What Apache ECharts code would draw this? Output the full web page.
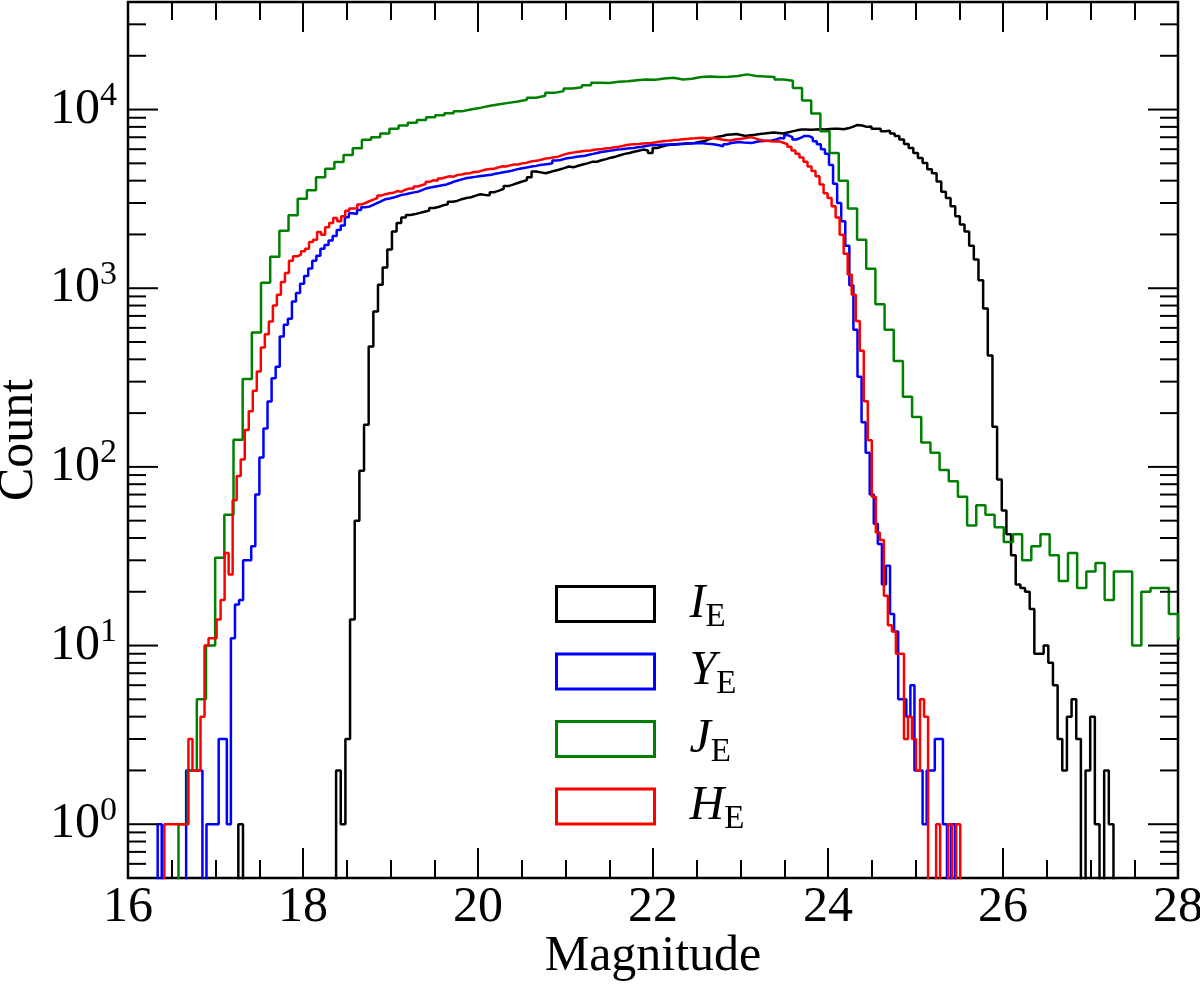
<!DOCTYPE html>
<html>
<head>
<meta charset="utf-8">
<title>Magnitude histograms</title>
<script src="https://cdn.jsdelivr.net/npm/echarts@6/dist/echarts.min.js"></script>
<style>
  html, body { margin: 0; padding: 0; background: #fff; }
  #chart { width: 1200px; height: 986px; }
</style>
</head>
<body>
<div id="chart"></div>
<script>
// first bin edge and bin width of each band, then the counts per bin
const iStart = 17.261, iWidth = 0.0532
const yStart = 16.339, yWidth = 0.0465
const jStart = 16.577, jWidth = 0.1048
const hStart = 16.4152, hWidth = 0.04594

const iCounts = [
  1, 0, 0, 0, 0, 0, 0, 0, 0, 0, 0, 0, 0, 0, 0, 0, 0, 0, 0, 0, 0,
  2, 1, 3, 14, 50, 95,
  172, 472, 741, 1047, 1308, 1645, 2080, 2317, 2490, 2570,
  2600, 2640, 2680, 2720, 2815, 2850, 2910, 2950, 3050, 3080,
  3150, 3200, 3230, 3300, 3360, 3330, 3310, 3450, 3520, 3600,
  3730, 3800, 3880, 3960, 4030, 4180, 4500, 4450, 4400, 4470,
  4550, 4620, 4700, 4800, 4750, 4850, 4930, 5000, 5100, 5100,
  5200, 5280, 5380, 5450, 5550, 5650, 5720, 5800, 5880, 5970,
  5900, 5720, 6100, 6200, 6310, 6350, 6380, 6420, 6450, 6480,
  6500, 6580, 6640, 6800, 6940, 7050, 7120, 7230, 7260, 7290,
  7200, 7120, 7180, 7230, 7300, 7340, 7400, 7450, 7400, 7340,
  7450, 7550, 7650, 7730, 7730, 7700, 7730, 7750, 7730, 7780,
  7800, 7800, 7760, 7850, 8000, 8200, 8150, 8000, 8050, 7800,
  7820, 7570, 7600, 7340, 7120, 6800, 6420, 6100, 5720, 5350,
  5030, 4630, 4400, 3960, 3470, 3200, 2880, 2525, 2270, 2080,
  1730, 1450, 1110, 770, 420, 168, 85, 57, 42, 32,
  22, 21, 20, 16, 9, 9, 10, 8, 6, 3,
  2, 4, 5, 3, 0, 2, 4, 1, 0, 2, 1
]

const yCounts = [
  1, 0, 0, 0, 0, 0, 0, 2, 2, 2, 2, 0, 1, 1, 1, 3, 3, 1,
  11, 17, 18, 30, 30, 36, 70, 113, 164,
  232, 313, 364, 537, 624, 674, 844, 939, 1060, 1170,
  1290, 1425, 1520, 1665, 1745, 1850, 1960, 2120, 2245, 2500,
  2630, 2600, 2740, 2840, 2860, 2930, 3000, 3070, 3150, 3180,
  3220, 3270, 3330, 3360, 3400, 3440, 3470, 3540, 3620, 3660,
  3700, 3730, 3770, 3810, 3880, 3960, 4020, 4080, 4140, 4170,
  4200, 4230, 4260, 4290, 4320, 4370, 4410, 4460, 4500, 4550,
  4610, 4660, 4710, 4750, 4800, 4840, 4890, 4930, 4960, 5000,
  5180, 5220, 5300, 5350, 5390, 5440, 5480, 5520, 5590, 5650,
  5720, 5780, 5830, 5880, 5920, 5970, 6000, 6040, 6070, 6100,
  6150, 6200, 6260, 6310, 6330, 6340, 6360, 6370, 6380, 6400,
  6410, 6420, 6440, 6460, 6480, 6500, 6470, 6440, 6420, 6370,
  6310, 6230, 6400, 6500, 6540, 6580, 6540, 6520, 6500, 6580,
  6640, 6670, 6690, 6710, 6800, 6940, 6880, 7180, 7010, 6800,
  6950, 7120, 7120, 6940, 6640, 6400, 6000, 5650, 4900, 3850,
  3000, 2367, 1730, 1040, 585, 320, 178, 120, 70, 48,
  37, 22, 28, 15, 12, 5, 5, 4, 6, 2,
  2, 1, 2, 2, 3, 3, 1, 0, 1
]

const jCounts = [
  1, 2, 5, 10, 31, 54, 142, 310, 565, 1073,
  1500, 2100, 2560, 3170, 3530, 4180, 4660, 5080, 5560, 6070,
  6770, 7000, 7340, 7800, 8150, 8450, 8750, 9050, 9300, 9550,
  9800, 10050, 10250, 10500, 10700, 10900, 11100, 11350, 11650, 11950,
  12400, 12680, 13130, 13350, 13700, 14120, 14100, 14300, 14420, 14610,
  14750, 14700, 14940, 15060, 14750, 14870, 15200, 15330, 15200, 15260,
  15400, 15740, 15400, 15330, 15200, 14750, 14500, 13200, 11250, 9500,
  7570, 5720, 4000, 2790, 1870, 1285, 814, 585, 392, 247,
  190, 137, 120, 96, 83, 68, 47, 61, 54, 46,
  38, 42, 30, 36, 42, 32, 23, 33, 21, 26,
  29, 18, 26, 26, 10, 20, 21, 21, 15, 11
]

const hCounts = [
  1, 1, 1, 1, 1, 1,
  3, 2, 2, 4, 10, 11, 11, 14, 18, 33, 25,
  65, 89, 110, 161, 205, 267, 342, 466, 553, 651,
  801, 919, 1082, 1215, 1427, 1508, 1540, 1608, 1665, 1813,
  1870, 2063, 1995, 2192, 2317, 2473, 2367, 2525, 2718, 2790,
  2790, 2940, 3000, 3067, 3135, 3200, 3300, 3360, 3400, 3420,
  3500, 3470, 3560, 3620, 3600, 3710, 3770, 3830, 3940, 4020,
  3990, 4110, 4180, 4230, 4210, 4310, 4330, 4390, 4400, 4470,
  4480, 4550, 4620, 4650, 4660, 4740, 4810, 4800, 4870, 4920,
  4930, 5000, 5030, 5100, 5160, 5180, 5260, 5330, 5360, 5410,
  5450, 5560, 5650, 5720, 5760, 5800, 5850, 5880, 5900, 5950,
  6000, 6020, 6080, 6100, 6150, 6200, 6260, 6330, 6370, 6400,
  6420, 6450, 6480, 6500, 6550, 6600, 6640, 6680, 6710, 6750,
  6780, 6820, 6850, 6880, 6900, 6930, 6950, 6920, 6940, 6900,
  6850, 6780, 6740, 6710, 6800, 6850, 6880, 6950, 7010, 6900,
  6780, 6710, 6680, 6640, 6620, 6640, 6520, 6400, 6200, 5900,
  5650, 5400, 5100, 4800, 4530, 4230, 3810, 3400, 3200, 2880,
  2490, 1995, 1560, 1195, 920, 655, 447, 233, 141, 68,
  43, 39, 19, 13, 12, 9, 9, 3, 4, 3,
  2, 5, 4, 0, 0, 1, 0, 0, 1, 0, 1
]

const bandNames = ['I', 'Y', 'J', 'H']
const bandColors = ['#000000', '#0000ff', '#008000', '#ff0000']
const xTicks = [16, 18, 20, 22, 24, 26, 28]
const yMajor = [1, 10, 100, 1000, 10000]

const FONT = "'Liberation Serif', 'DejaVu Serif', serif"
const FLOOR = 0.01 // empty bins drop below the axis

// histogram outline: points on the left edges, step turns at the next edge
function stepData(start, width, counts) {
  const pts = [[start, FLOOR]]
  counts.forEach((c, k) => {
    pts.push([Number((start + k * width).toFixed(5)), c > 0 ? c : FLOOR])
  })
  pts.push([Number((start + counts.length * width).toFixed(5)), FLOOR])
  return pts
}

const bands = [
  [iStart, iWidth, iCounts],
  [yStart, yWidth, yCounts],
  [jStart, jWidth, jCounts],
  [hStart, hWidth, hCounts],
]

// minor ticks of the log axis at 2..9 x 10^k
const yMinor = []
for (let e = -1; e <= 4; e++) {
  for (let m = 2; m <= 9; m++) {
    const v = m * Math.pow(10, e)
    if (v > 0.5 && v < 39000) yMinor.push(v)
  }
}
const tickData = yMajor.map(v => [16, v, 1]).concat(yMinor.map(v => [16, v, 0]))

const chart = echarts.init(document.getElementById('chart'), null, { renderer: 'canvas' })

const xAxisBase = {
  type: 'value',
  min: 16,
  max: 28,
  interval: 2,
  gridIndex: 0,
  axisLine: { show: false },
  axisTick: { show: true, inside: true, length: 30, lineStyle: { color: '#000', width: 2 } },
  minorTick: { show: true, splitNumber: 4, length: 18, lineStyle: { color: '#000', width: 2 } },
  splitLine: { show: false },
  minorSplitLine: { show: false },
}

const option = {
  animation: false,
  backgroundColor: '#fff',
  grid: {
    left: 128, right: 22, top: 2, bottom: 108,
    show: true, borderColor: '#000', borderWidth: 2.5,
    backgroundColor: 'rgba(0,0,0,0)',
    containLabel: false, outerBoundsMode: 'none',
  },
  xAxis: [
    Object.assign({}, xAxisBase, {
      position: 'bottom',
      axisLabel: {
        color: '#000', fontFamily: FONT, fontSize: 50, margin: 5,
        formatter: v => (xTicks.indexOf(v) >= 0 ? String(v) : ''),
      },
      name: 'Magnitude',
      nameLocation: 'middle',
      nameGap: 54,
      nameMoveOverlap: false,
      nameTextStyle: { color: '#000', fontFamily: FONT, fontSize: 50 },
    }),
    Object.assign({}, xAxisBase, {
      position: 'top',
      axisLabel: { show: false },
    }),
  ],
  yAxis: {
    type: 'log',
    logBase: 10,
    min: 0.5,
    max: 40000,
    axisLine: { show: false },
    axisTick: { show: false },
    splitLine: { show: false },
    axisLabel: {
      margin: 11,
      color: '#000',
      formatter: v => {
        const e = Math.log10(v)
        const r = Math.round(e)
        if (Math.abs(e - r) > 1e-6) return ''
        return '{b|10}{e|' + r + '}'
      },
      rich: {
        // same middle line for both, the exponent is lifted by its bottom padding
        b: { fontFamily: FONT, fontSize: 50, verticalAlign: 'middle', color: '#000' },
        e: { fontFamily: FONT, fontSize: 34, verticalAlign: 'middle', padding: [0, 0, 27, 0], color: '#000' },
      },
    },
    name: 'Count',
    nameLocation: 'middle',
    nameGap: 84,
    nameRotate: 90,
    nameMoveOverlap: false,
    nameTextStyle: { color: '#000', fontFamily: FONT, fontSize: 50 },
  },
  legend: {
    orient: 'vertical',
    left: 555,
    top: 580,
    padding: 0,
    itemWidth: 98,
    itemHeight: 35,
    itemGap: 14,
    selectedMode: false,
    data: bandNames.map((n, i) => ({
      name: n,
      icon: 'rect',
      itemStyle: { color: 'rgba(0,0,0,0)', borderColor: bandColors[i], borderWidth: 3 },
    })),
    formatter: name => '{i|' + name + '}{s|E}',
    textStyle: {
      rich: {
        i: { fontFamily: FONT, fontStyle: 'italic', fontSize: 48, verticalAlign: 'middle', padding: [0, 0, 0, 30], color: '#000' },
        s: { fontFamily: FONT, fontSize: 33, verticalAlign: 'middle', padding: [26, 0, 0, 0], color: '#000' },
      },
    },
  },
  series: bands.map((b, i) => ({
    name: bandNames[i],
    type: 'line',
    step: 'end',
    symbol: 'none',
    showSymbol: false,
    silent: true,
    clip: true,
    lineStyle: { color: bandColors[i], width: 2.5 },
    itemStyle: { color: bandColors[i] },
    data: stepData(b[0], b[1], b[2]),
  })).concat([{
    type: 'custom',
    name: 'yticks',
    coordinateSystem: 'cartesian2d',
    silent: true,
    z: 10,
    encode: { x: 0, y: 1 },
    data: tickData,
    renderItem: (params, api) => {
      const v = api.value(1)
      const len = api.value(2) ? 30 : 18
      const a = api.coord([16, v])
      const b = api.coord([28, v])
      const st = { stroke: '#000', lineWidth: 2 }
      return {
        type: 'group',
        children: [
          { type: 'line', shape: { x1: a[0], y1: a[1], x2: a[0] + len, y2: a[1] }, style: st },
          { type: 'line', shape: { x1: b[0] - len, y1: b[1], x2: b[0], y2: b[1] }, style: st },
        ],
      }
    },
  }]),
}

chart.setOption(option)
</script>
</body>
</html>
